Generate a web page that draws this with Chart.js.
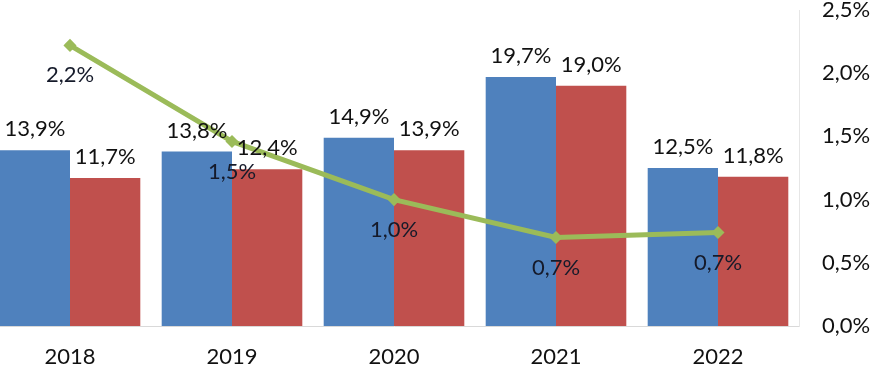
<!DOCTYPE html>
<html>
<head>
<meta charset="utf-8">
<script src="https://cdn.jsdelivr.net/npm/chart.js@4"></script>
<style>
  body { margin: 0; background: #fff; overflow: hidden; }
  #wrap { position: absolute; left: -20px; top: 0; width: 890px; height: 366px; }
</style>
</head>
<body>
<div id="wrap"><canvas id="chart"></canvas></div>
<script>
const years = ['2018', '2019', '2020', '2021', '2022'];
const blueValues = [13.9, 13.8, 14.9, 19.7, 12.5];
const redValues = [11.7, 12.4, 13.9, 19.0, 11.8];
const lineValues = [2.22, 1.46, 1.0, 0.70, 0.74];
const rightTicks = [0, 0.5, 1, 1.5, 2, 2.5];

const fmt = v => v.toFixed(1).replace('.', ',') + '%';
const FONT = 'Lato';

// draws the value labels (no datalabels plugin available)
const labelPlugin = {
    id: 'valueLabels',
    afterDatasetsDraw(chart) {
        const ctx = chart.ctx;
        ctx.save();
        ctx.font = '22px ' + FONT;
        ctx.textAlign = 'center';
        ctx.textBaseline = 'middle';
        chart.data.datasets.forEach((ds, i) => {
            const meta = chart.getDatasetMeta(i);
            meta.data.forEach((el, j) => {
                const v = ds.data[j];
                if (ds.type === 'line') {
                    ctx.fillStyle = '#151a2a';
                    ctx.fillText(fmt(v), el.x, el.y + 30);
                } else {
                    ctx.fillStyle = '#111';
                    ctx.fillText(fmt(v), el.x, el.y - 21);
                }
            });
        });
        ctx.restore();
    }
};

new Chart(document.getElementById('chart'), {
    data: {
        labels: years,
        datasets: [{
            type: 'line',
            data: lineValues,
            yAxisID: 'y1',
            borderColor: '#9BBB59',
            backgroundColor: '#9BBB59',
            borderWidth: 5,
            pointRadius: 3,
            pointStyle: 'rectRot',
            tension: 0,
            order: 0
        }, {
            type: 'bar',
            data: blueValues,
            yAxisID: 'y',
            backgroundColor: '#4F81BD',
            categoryPercentage: 0.868,
            barPercentage: 1,
            order: 1
        }, {
            type: 'bar',
            data: redValues,
            yAxisID: 'y',
            backgroundColor: '#C0504D',
            categoryPercentage: 0.868,
            barPercentage: 1,
            order: 1
        }]
    },
    options: {
        responsive: true,
        maintainAspectRatio: false,
        animation: false,
        layout: { padding: 0 },
        plugins: {
            legend: { display: false },
            tooltip: { enabled: false }
        },
        scales: {
            x: {
                grid: { display: false, drawTicks: false },
                border: { display: true, color: '#d9d9d9', width: 1 },
                ticks: { color: '#111', font: { family: FONT, size: 22 }, padding: 18 },
                afterFit: s => {
                    s.height = 40;
                    s.paddingLeft = 0;
                    s.paddingRight = 0;
                }
            },
            y: {
                display: false,
                min: 0,
                max: 25
            },
            y1: {
                position: 'right',
                min: 0,
                max: 2.5,
                afterBuildTicks: s => { s.ticks = rightTicks.map(v => ({ value: v })); },
                grid: { display: false, drawTicks: false },
                border: { display: true, color: '#e6e6e6', width: 1 },
                ticks: {
                    color: '#111',
                    font: { family: FONT, size: 22 },
                    padding: 23,
                    callback: v => fmt(v)
                },
                afterFit: s => {
                    s.width = 71;
                    s.paddingTop = 10;
                    s.paddingBottom = 0;
                }
            }
        }
    },
    plugins: [labelPlugin]
});
</script>
</body>
</html>
